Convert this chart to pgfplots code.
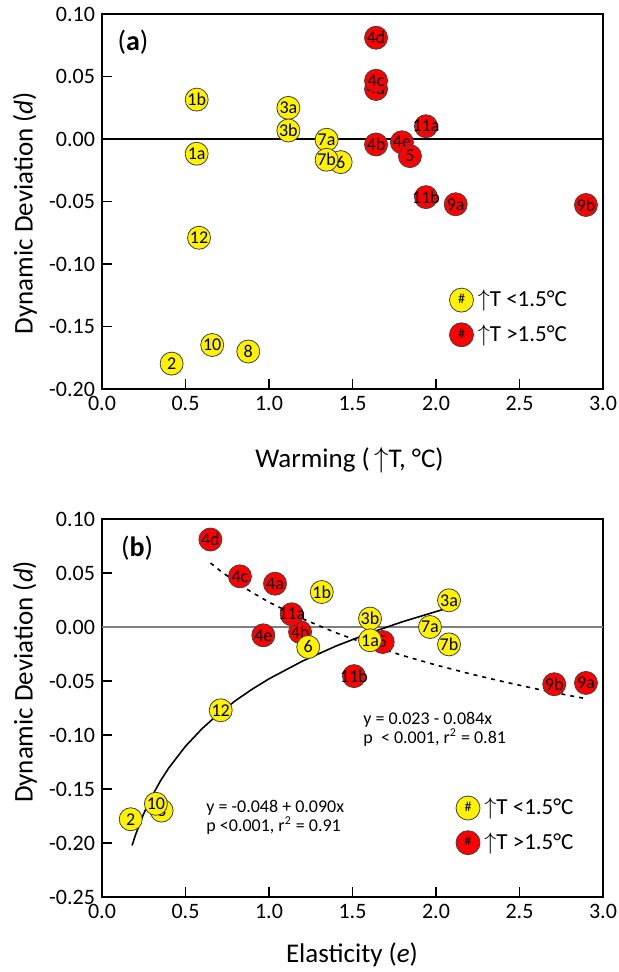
\documentclass[border=0pt]{standalone}
\usepackage{fontspec}
\setmainfont{Carlito}
\usepackage{pgfplots}
\usepackage{pgfplotstable}
\pgfplotsset{compat=1.18}

% panel (a): warming vs dynamic deviation
\pgfplotstableread{
x y lab
1.641 0.040 4a
1.641 0.0466 4c
1.641 0.081 4d
1.641 -0.0044 4b
1.796 -0.0026 4e
1.844 -0.0137 5
1.940 0.0102 11a
1.940 -0.0465 11b
2.118 -0.0522 9a
2.898 -0.0528 9b
}\redA
\pgfplotstableread{
x y lab
0.567 0.0315 1b
0.567 -0.0118 1a
1.116 0.0249 3a
1.116 0.0068 3b
1.429 -0.0185 6
1.345 -0.0006 7a
1.345 -0.0166 7b
0.581 -0.079 12
0.417 -0.1797 2
0.660 -0.1648 10
0.876 -0.170 8
}\yelA

% panel (b): elasticity vs dynamic deviation
\pgfplotstableread{
x y lab
0.649 0.081 4d
0.826 0.0469 4c
1.036 0.0401 4a
1.186 -0.0046 4b
1.136 0.0118 11a
0.966 -0.0077 4e
1.681 -0.0139 5
1.509 -0.0455 11b
2.708 -0.0530 9b
2.898 -0.0518 9a
}\redB
\pgfplotstableread{
x y lab
1.316 0.0324 1b
1.605 0.0078 3b
1.605 -0.0123 1a
1.235 -0.0185 6
0.711 -0.0771 12
2.078 0.0247 3a
1.964 0.0000 7a
2.078 -0.0161 7b
0.172 -0.1780 2
0.357 -0.1700 8
0.323 -0.1637 10
}\yelB

\pgfplotsset{
  ddaxis/.style={
    scale only axis, width=250.5pt,
    xmin=0, xmax=3, xtick={0,0.5,...,3},
    tick pos=left, tick align=inside, major tick length=5pt,
    axis line style={line width=1.1pt},
    every tick/.style={black, line width=0.8pt},
    scaled ticks=false,
    tick label style={font=\fontsize{11}{13}\selectfont},
    label style={font=\fontsize{13.5}{15}\selectfont},
    /pgf/number format/assume math mode=true,
    xticklabel style={/pgf/number format/.cd, fixed, fixed zerofill, precision=1},
    yticklabel style={/pgf/number format/.cd, fixed, fixed zerofill, precision=2},
    ylabel={Dynamic Deviation (\textit{d})},
    legend cell align=left,
  },
  % circle of fixed size, label centred on it whatever its width
  dot/.style={only marks, mark=none, point meta=explicit symbolic,
    nodes near coords={\makebox[0pt]{\pgfplotspointmeta}},
    nodes near coords style={circle, draw=black!75, fill=#1, text=black, line width=0.4pt,
      minimum size=11.5pt, inner sep=0pt, anchor=center, font=\fontsize{9}{9}\selectfont}},
  keyimg/.style={legend image code/.code={%
    \node[circle, draw=black!75, fill=#1, minimum size=12pt, inner sep=0pt,
      font=\fontsize{7}{7}\selectfont] at (6pt,0pt) {\#};}},
}

\begin{document}
\begin{tikzpicture}
\path[use as bounding box] (-51pt,7pt) rectangle (258.5pt,-479pt);

\begin{axis}[ddaxis, at={(0,0)}, anchor=north west, height=187.5pt,
  ymin=-0.2, ymax=0.1, ytick={-0.2,-0.15,-0.1,-0.05,0,0.05,0.1},
  xlabel={Warming (\,$\uparrow$T, °C)},
  ylabel style={at={(axis description cs:-0.1537,0.469)}, anchor=center},
  xlabel style={at={(axis description cs:0.494,-0.19)}, anchor=center},
  legend style={draw=none, fill=none, inner sep=0pt, at={(0.692,0.275)}, anchor=north west,
    font=\fontsize{11.5}{13}\selectfont, row sep=3.5pt}]
\addplot[black, line width=0.8pt, forget plot] coordinates {(0.06,0) (3,0)};
\addplot[dot=red, forget plot] table[x=x, y=y, meta=lab] {\redA};
\addplot[dot=yellow, forget plot] table[x=x, y=y, meta=lab] {\yelA};
\addlegendimage{keyimg=yellow}\addlegendentry{$\uparrow$T <1.5°C}
\addlegendimage{keyimg=red}\addlegendentry{$\uparrow$T >1.5°C}
\node[anchor=center, font=\fontsize{14}{16}\selectfont] at (rel axis cs:0.062,0.925) {(\textbf{a})};
\end{axis}

\begin{axis}[ddaxis, at={(0,-252.5pt)}, anchor=north west, height=189pt,
  ymin=-0.25, ymax=0.1, ytick={-0.25,-0.2,-0.15,-0.1,-0.05,0,0.05,0.1},
  xlabel={Elasticity (\textit{e})},
  ylabel style={at={(axis description cs:-0.1537,0.569)}, anchor=center},
  xlabel style={at={(axis description cs:0.499,-0.153)}, anchor=center},
  legend style={draw=none, fill=none, inner sep=0pt, at={(0.705,0.273)}, anchor=north west,
    font=\fontsize{11.5}{13}\selectfont, row sep=3.5pt}]
\addplot[black!50, line width=1pt, forget plot] coordinates {(0,0) (3,0)};
% fitted curves
\addplot[black, line width=0.8pt, forget plot] coordinates {
(0.18,-0.2023) (0.2,-0.1928) (0.25,-0.1728) (0.3,-0.1564) (0.35,-0.1425)
(0.4,-0.1305) (0.5,-0.1104) (0.6,-0.0940) (0.7,-0.0801) (0.8,-0.0681)
(0.9,-0.0575) (1.0,-0.0480) (1.2,-0.0316) (1.4,-0.0177) (1.6,-0.0057)
(1.8,0.0049) (2.05,0.0166)};
\addplot[black, line width=0.8pt, dash pattern=on 2pt off 2.5pt, forget plot] coordinates {
(0.65,0.0592) (0.7,0.0530) (0.8,0.0417) (0.9,0.0319) (1.0,0.0230)
(1.2,0.0077) (1.4,-0.0053) (1.6,-0.0165) (1.8,-0.0264) (2.0,-0.0352)
(2.2,-0.0432) (2.4,-0.0505) (2.6,-0.0573) (2.8,-0.0635) (2.9,-0.0664)};
\addplot[dot=red, forget plot] table[x=x, y=y, meta=lab] {\redB};
\addplot[dot=yellow, forget plot] table[x=x, y=y, meta=lab] {\yelB};
\addlegendimage{keyimg=yellow}\addlegendentry{$\uparrow$T <1.5°C}
\addlegendimage{keyimg=red}\addlegendentry{$\uparrow$T >1.5°C}
\node[anchor=center, font=\fontsize{14}{16}\selectfont] at (rel axis cs:0.07,0.923) {(\textbf{b})};
\node[anchor=north west, align=left, inner sep=0pt, font=\fontsize{9}{9.5}\selectfont]
  at (rel axis cs:0.521,0.489) {y = 0.023 - 0.084x\\p\ \ < 0.001, r\textsuperscript{2} = 0.81};
\node[anchor=north west, align=left, inner sep=0pt, font=\fontsize{9}{9.5}\selectfont]
  at (rel axis cs:0.2076,0.2566) {y = -0.048 + 0.090x\\p <0.001, r\textsuperscript{2} = 0.91};
\end{axis}
\end{tikzpicture}
\end{document}
